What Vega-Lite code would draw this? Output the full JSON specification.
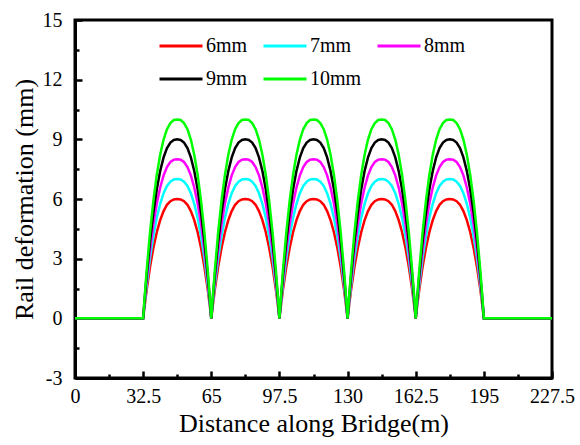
{
  "$schema": "https://vega.github.io/schema/vega-lite/v6.json",
  "width": 477,
  "height": 358,
  "autosize": {"type": "none"},
  "padding": {"left": 75, "top": 20, "right": 28, "bottom": 67},
  "background": "white",
  "config": {
    "font": "serif",
    "view": {"stroke": "black", "strokeWidth": 3},
    "axis": {"grid": false, "labelFont": "serif", "titleFont": "serif"},
    "legend": {"labelFont": "serif"},
    "style": {"guide-label": {"font": "serif"}, "guide-title": {"font": "serif"}}
  },
  "data": {
    "values": [
      {"x": 0, "6mm": 0, "7mm": 0, "8mm": 0, "9mm": 0, "10mm": 0},
      {"x": 32.5, "6mm": 0, "7mm": 0, "8mm": 0, "9mm": 0, "10mm": 0},
      {"x": 33.3125, "6mm": 0.72, "7mm": 0.84, "8mm": 0.96, "9mm": 1.08, "10mm": 1.2},
      {"x": 34.125, "6mm": 1.39, "7mm": 1.62, "8mm": 1.86, "9mm": 2.09, "10mm": 2.32},
      {"x": 35.75, "6mm": 2.57, "7mm": 3, "8mm": 3.42, "9mm": 3.85, "10mm": 4.28},
      {"x": 37.375, "6mm": 3.54, "7mm": 4.13, "8mm": 4.72, "9mm": 5.31, "10mm": 5.9},
      {"x": 39, "6mm": 4.33, "7mm": 5.05, "8mm": 5.77, "9mm": 6.49, "10mm": 7.21},
      {"x": 40.625, "6mm": 4.94, "7mm": 5.76, "8mm": 6.58, "9mm": 7.41, "10mm": 8.23},
      {"x": 42.25, "6mm": 5.39, "7mm": 6.29, "8mm": 7.19, "9mm": 8.09, "10mm": 8.99},
      {"x": 43.875, "6mm": 5.71, "7mm": 6.66, "8mm": 7.61, "9mm": 8.56, "10mm": 9.51},
      {"x": 45.5, "6mm": 5.89, "7mm": 6.87, "8mm": 7.86, "9mm": 8.84, "10mm": 9.82},
      {"x": 47.125, "6mm": 5.98, "7mm": 6.98, "8mm": 7.98, "9mm": 8.97, "10mm": 9.97},
      {"x": 48.75, "6mm": 6, "7mm": 7, "8mm": 8, "9mm": 9, "10mm": 10},
      {"x": 50.375, "6mm": 5.98, "7mm": 6.98, "8mm": 7.98, "9mm": 8.97, "10mm": 9.97},
      {"x": 52, "6mm": 5.89, "7mm": 6.87, "8mm": 7.86, "9mm": 8.84, "10mm": 9.82},
      {"x": 53.625, "6mm": 5.71, "7mm": 6.66, "8mm": 7.61, "9mm": 8.56, "10mm": 9.51},
      {"x": 55.25, "6mm": 5.39, "7mm": 6.29, "8mm": 7.19, "9mm": 8.09, "10mm": 8.99},
      {"x": 56.875, "6mm": 4.94, "7mm": 5.76, "8mm": 6.58, "9mm": 7.41, "10mm": 8.23},
      {"x": 58.5, "6mm": 4.33, "7mm": 5.05, "8mm": 5.77, "9mm": 6.49, "10mm": 7.21},
      {"x": 60.125, "6mm": 3.54, "7mm": 4.13, "8mm": 4.72, "9mm": 5.31, "10mm": 5.9},
      {"x": 61.75, "6mm": 2.57, "7mm": 3, "8mm": 3.42, "9mm": 3.85, "10mm": 4.28},
      {"x": 63.375, "6mm": 1.39, "7mm": 1.62, "8mm": 1.86, "9mm": 2.09, "10mm": 2.32},
      {"x": 64.1875, "6mm": 0.72, "7mm": 0.84, "8mm": 0.96, "9mm": 1.08, "10mm": 1.2},
      {"x": 65, "6mm": 0, "7mm": 0, "8mm": 0, "9mm": 0, "10mm": 0},
      {"x": 65.8125, "6mm": 0.72, "7mm": 0.84, "8mm": 0.96, "9mm": 1.08, "10mm": 1.2},
      {"x": 66.625, "6mm": 1.39, "7mm": 1.62, "8mm": 1.86, "9mm": 2.09, "10mm": 2.32},
      {"x": 68.25, "6mm": 2.57, "7mm": 3, "8mm": 3.42, "9mm": 3.85, "10mm": 4.28},
      {"x": 69.875, "6mm": 3.54, "7mm": 4.13, "8mm": 4.72, "9mm": 5.31, "10mm": 5.9},
      {"x": 71.5, "6mm": 4.33, "7mm": 5.05, "8mm": 5.77, "9mm": 6.49, "10mm": 7.21},
      {"x": 73.125, "6mm": 4.94, "7mm": 5.76, "8mm": 6.58, "9mm": 7.41, "10mm": 8.23},
      {"x": 74.75, "6mm": 5.39, "7mm": 6.29, "8mm": 7.19, "9mm": 8.09, "10mm": 8.99},
      {"x": 76.375, "6mm": 5.71, "7mm": 6.66, "8mm": 7.61, "9mm": 8.56, "10mm": 9.51},
      {"x": 78, "6mm": 5.89, "7mm": 6.87, "8mm": 7.86, "9mm": 8.84, "10mm": 9.82},
      {"x": 79.625, "6mm": 5.98, "7mm": 6.98, "8mm": 7.98, "9mm": 8.97, "10mm": 9.97},
      {"x": 81.25, "6mm": 6, "7mm": 7, "8mm": 8, "9mm": 9, "10mm": 10},
      {"x": 82.875, "6mm": 5.98, "7mm": 6.98, "8mm": 7.98, "9mm": 8.97, "10mm": 9.97},
      {"x": 84.5, "6mm": 5.89, "7mm": 6.87, "8mm": 7.86, "9mm": 8.84, "10mm": 9.82},
      {"x": 86.125, "6mm": 5.71, "7mm": 6.66, "8mm": 7.61, "9mm": 8.56, "10mm": 9.51},
      {"x": 87.75, "6mm": 5.39, "7mm": 6.29, "8mm": 7.19, "9mm": 8.09, "10mm": 8.99},
      {"x": 89.375, "6mm": 4.94, "7mm": 5.76, "8mm": 6.58, "9mm": 7.41, "10mm": 8.23},
      {"x": 91, "6mm": 4.33, "7mm": 5.05, "8mm": 5.77, "9mm": 6.49, "10mm": 7.21},
      {"x": 92.625, "6mm": 3.54, "7mm": 4.13, "8mm": 4.72, "9mm": 5.31, "10mm": 5.9},
      {"x": 94.25, "6mm": 2.57, "7mm": 3, "8mm": 3.42, "9mm": 3.85, "10mm": 4.28},
      {"x": 95.875, "6mm": 1.39, "7mm": 1.62, "8mm": 1.86, "9mm": 2.09, "10mm": 2.32},
      {"x": 96.6875, "6mm": 0.72, "7mm": 0.84, "8mm": 0.96, "9mm": 1.08, "10mm": 1.2},
      {"x": 97.5, "6mm": 0, "7mm": 0, "8mm": 0, "9mm": 0, "10mm": 0},
      {"x": 98.3125, "6mm": 0.72, "7mm": 0.84, "8mm": 0.96, "9mm": 1.08, "10mm": 1.2},
      {"x": 99.125, "6mm": 1.39, "7mm": 1.62, "8mm": 1.86, "9mm": 2.09, "10mm": 2.32},
      {"x": 100.75, "6mm": 2.57, "7mm": 3, "8mm": 3.42, "9mm": 3.85, "10mm": 4.28},
      {"x": 102.375, "6mm": 3.54, "7mm": 4.13, "8mm": 4.72, "9mm": 5.31, "10mm": 5.9},
      {"x": 104, "6mm": 4.33, "7mm": 5.05, "8mm": 5.77, "9mm": 6.49, "10mm": 7.21},
      {"x": 105.625, "6mm": 4.94, "7mm": 5.76, "8mm": 6.58, "9mm": 7.41, "10mm": 8.23},
      {"x": 107.25, "6mm": 5.39, "7mm": 6.29, "8mm": 7.19, "9mm": 8.09, "10mm": 8.99},
      {"x": 108.875, "6mm": 5.71, "7mm": 6.66, "8mm": 7.61, "9mm": 8.56, "10mm": 9.51},
      {"x": 110.5, "6mm": 5.89, "7mm": 6.87, "8mm": 7.86, "9mm": 8.84, "10mm": 9.82},
      {"x": 112.125, "6mm": 5.98, "7mm": 6.98, "8mm": 7.98, "9mm": 8.97, "10mm": 9.97},
      {"x": 113.75, "6mm": 6, "7mm": 7, "8mm": 8, "9mm": 9, "10mm": 10},
      {"x": 115.375, "6mm": 5.98, "7mm": 6.98, "8mm": 7.98, "9mm": 8.97, "10mm": 9.97},
      {"x": 117, "6mm": 5.89, "7mm": 6.87, "8mm": 7.86, "9mm": 8.84, "10mm": 9.82},
      {"x": 118.625, "6mm": 5.71, "7mm": 6.66, "8mm": 7.61, "9mm": 8.56, "10mm": 9.51},
      {"x": 120.25, "6mm": 5.39, "7mm": 6.29, "8mm": 7.19, "9mm": 8.09, "10mm": 8.99},
      {"x": 121.875, "6mm": 4.94, "7mm": 5.76, "8mm": 6.58, "9mm": 7.41, "10mm": 8.23},
      {"x": 123.5, "6mm": 4.33, "7mm": 5.05, "8mm": 5.77, "9mm": 6.49, "10mm": 7.21},
      {"x": 125.125, "6mm": 3.54, "7mm": 4.13, "8mm": 4.72, "9mm": 5.31, "10mm": 5.9},
      {"x": 126.75, "6mm": 2.57, "7mm": 3, "8mm": 3.42, "9mm": 3.85, "10mm": 4.28},
      {"x": 128.375, "6mm": 1.39, "7mm": 1.62, "8mm": 1.86, "9mm": 2.09, "10mm": 2.32},
      {"x": 129.1875, "6mm": 0.72, "7mm": 0.84, "8mm": 0.96, "9mm": 1.08, "10mm": 1.2},
      {"x": 130, "6mm": 0, "7mm": 0, "8mm": 0, "9mm": 0, "10mm": 0},
      {"x": 130.8125, "6mm": 0.72, "7mm": 0.84, "8mm": 0.96, "9mm": 1.08, "10mm": 1.2},
      {"x": 131.625, "6mm": 1.39, "7mm": 1.62, "8mm": 1.86, "9mm": 2.09, "10mm": 2.32},
      {"x": 133.25, "6mm": 2.57, "7mm": 3, "8mm": 3.42, "9mm": 3.85, "10mm": 4.28},
      {"x": 134.875, "6mm": 3.54, "7mm": 4.13, "8mm": 4.72, "9mm": 5.31, "10mm": 5.9},
      {"x": 136.5, "6mm": 4.33, "7mm": 5.05, "8mm": 5.77, "9mm": 6.49, "10mm": 7.21},
      {"x": 138.125, "6mm": 4.94, "7mm": 5.76, "8mm": 6.58, "9mm": 7.41, "10mm": 8.23},
      {"x": 139.75, "6mm": 5.39, "7mm": 6.29, "8mm": 7.19, "9mm": 8.09, "10mm": 8.99},
      {"x": 141.375, "6mm": 5.71, "7mm": 6.66, "8mm": 7.61, "9mm": 8.56, "10mm": 9.51},
      {"x": 143, "6mm": 5.89, "7mm": 6.87, "8mm": 7.86, "9mm": 8.84, "10mm": 9.82},
      {"x": 144.625, "6mm": 5.98, "7mm": 6.98, "8mm": 7.98, "9mm": 8.97, "10mm": 9.97},
      {"x": 146.25, "6mm": 6, "7mm": 7, "8mm": 8, "9mm": 9, "10mm": 10},
      {"x": 147.875, "6mm": 5.98, "7mm": 6.98, "8mm": 7.98, "9mm": 8.97, "10mm": 9.97},
      {"x": 149.5, "6mm": 5.89, "7mm": 6.87, "8mm": 7.86, "9mm": 8.84, "10mm": 9.82},
      {"x": 151.125, "6mm": 5.71, "7mm": 6.66, "8mm": 7.61, "9mm": 8.56, "10mm": 9.51},
      {"x": 152.75, "6mm": 5.39, "7mm": 6.29, "8mm": 7.19, "9mm": 8.09, "10mm": 8.99},
      {"x": 154.375, "6mm": 4.94, "7mm": 5.76, "8mm": 6.58, "9mm": 7.41, "10mm": 8.23},
      {"x": 156, "6mm": 4.33, "7mm": 5.05, "8mm": 5.77, "9mm": 6.49, "10mm": 7.21},
      {"x": 157.625, "6mm": 3.54, "7mm": 4.13, "8mm": 4.72, "9mm": 5.31, "10mm": 5.9},
      {"x": 159.25, "6mm": 2.57, "7mm": 3, "8mm": 3.42, "9mm": 3.85, "10mm": 4.28},
      {"x": 160.875, "6mm": 1.39, "7mm": 1.62, "8mm": 1.86, "9mm": 2.09, "10mm": 2.32},
      {"x": 161.6875, "6mm": 0.72, "7mm": 0.84, "8mm": 0.96, "9mm": 1.08, "10mm": 1.2},
      {"x": 162.5, "6mm": 0, "7mm": 0, "8mm": 0, "9mm": 0, "10mm": 0},
      {"x": 163.3125, "6mm": 0.72, "7mm": 0.84, "8mm": 0.96, "9mm": 1.08, "10mm": 1.2},
      {"x": 164.125, "6mm": 1.39, "7mm": 1.62, "8mm": 1.86, "9mm": 2.09, "10mm": 2.32},
      {"x": 165.75, "6mm": 2.57, "7mm": 3, "8mm": 3.42, "9mm": 3.85, "10mm": 4.28},
      {"x": 167.375, "6mm": 3.54, "7mm": 4.13, "8mm": 4.72, "9mm": 5.31, "10mm": 5.9},
      {"x": 169, "6mm": 4.33, "7mm": 5.05, "8mm": 5.77, "9mm": 6.49, "10mm": 7.21},
      {"x": 170.625, "6mm": 4.94, "7mm": 5.76, "8mm": 6.58, "9mm": 7.41, "10mm": 8.23},
      {"x": 172.25, "6mm": 5.39, "7mm": 6.29, "8mm": 7.19, "9mm": 8.09, "10mm": 8.99},
      {"x": 173.875, "6mm": 5.71, "7mm": 6.66, "8mm": 7.61, "9mm": 8.56, "10mm": 9.51},
      {"x": 175.5, "6mm": 5.89, "7mm": 6.87, "8mm": 7.86, "9mm": 8.84, "10mm": 9.82},
      {"x": 177.125, "6mm": 5.98, "7mm": 6.98, "8mm": 7.98, "9mm": 8.97, "10mm": 9.97},
      {"x": 178.75, "6mm": 6, "7mm": 7, "8mm": 8, "9mm": 9, "10mm": 10},
      {"x": 180.375, "6mm": 5.98, "7mm": 6.98, "8mm": 7.98, "9mm": 8.97, "10mm": 9.97},
      {"x": 182, "6mm": 5.89, "7mm": 6.87, "8mm": 7.86, "9mm": 8.84, "10mm": 9.82},
      {"x": 183.625, "6mm": 5.71, "7mm": 6.66, "8mm": 7.61, "9mm": 8.56, "10mm": 9.51},
      {"x": 185.25, "6mm": 5.39, "7mm": 6.29, "8mm": 7.19, "9mm": 8.09, "10mm": 8.99},
      {"x": 186.875, "6mm": 4.94, "7mm": 5.76, "8mm": 6.58, "9mm": 7.41, "10mm": 8.23},
      {"x": 188.5, "6mm": 4.33, "7mm": 5.05, "8mm": 5.77, "9mm": 6.49, "10mm": 7.21},
      {"x": 190.125, "6mm": 3.54, "7mm": 4.13, "8mm": 4.72, "9mm": 5.31, "10mm": 5.9},
      {"x": 191.75, "6mm": 2.57, "7mm": 3, "8mm": 3.42, "9mm": 3.85, "10mm": 4.28},
      {"x": 193.375, "6mm": 1.39, "7mm": 1.62, "8mm": 1.86, "9mm": 2.09, "10mm": 2.32},
      {"x": 194.1875, "6mm": 0.72, "7mm": 0.84, "8mm": 0.96, "9mm": 1.08, "10mm": 1.2},
      {"x": 195, "6mm": 0, "7mm": 0, "8mm": 0, "9mm": 0, "10mm": 0},
      {"x": 227.5, "6mm": 0, "7mm": 0, "8mm": 0, "9mm": 0, "10mm": 0}
    ]
  },
  "transform": [{"fold": ["6mm", "7mm", "8mm", "9mm", "10mm"], "as": ["series", "value"]}],
  "layer": [
    {
      "mark": {"type": "line", "strokeWidth": 2.5},
      "encoding": {
        "x": {
          "field": "x", "type": "quantitative",
          "scale": {"domain": [0, 227.5], "nice": false, "zero": false},
          "axis": {
            "orient": "bottom",
            "values": [0, 32.5, 65, 97.5, 130, 162.5, 195, 227.5],
            "labelExpr": "'' + datum.value",
            "labelFlush": false,
            "labelOverlap": false,
            "tickSize": -7, "tickWidth": 2.5, "tickColor": "black",
            "domainColor": "black", "domainWidth": 3,
            "labelFont": "serif", "labelColor": "black",
            "labelFontSize": 20, "labelPadding": 15,
            "title": "Distance along Bridge(m)",
            "titleFont": "serif", "titleColor": "black", "titleFontWeight": "normal",
            "titleFontSize": 26, "titlePadding": 4
          }
        },
        "y": {
          "field": "value", "type": "quantitative",
          "scale": {"domain": [-3, 15], "nice": false, "zero": false},
          "axis": {
            "orient": "left",
            "values": [-3, 0, 3, 6, 9, 12, 15],
            "labelExpr": "'' + datum.value",
            "labelFlush": false,
            "labelOverlap": false,
            "tickSize": -7, "tickWidth": 2.5, "tickColor": "black",
            "domainColor": "black", "domainWidth": 3,
            "labelFont": "serif", "labelColor": "black",
            "labelFontSize": 20, "labelPadding": 20,
            "title": "Rail deformation (mm)",
            "titleFont": "serif", "titleColor": "black", "titleFontWeight": "normal",
            "titleFontSize": 26, "titlePadding": 5
          }
        },
        "color": {
          "field": "series", "type": "nominal",
          "scale": {"domain": ["6mm", "7mm", "8mm", "9mm", "10mm"], "range": ["#ff0000", "#00ffff", "#ff00ff", "#000000", "#00ff00"]},
          "legend": {
            "orient": "none", "legendX": 83, "legendY": 3,
            "columns": 3, "direction": "horizontal",
            "title": null,
            "symbolType": "stroke", "symbolSize": 1849, "symbolStrokeWidth": 3,
            "labelFont": "serif", "labelFontSize": 20, "labelColor": "black",
            "labelOffset": 2, "columnPadding": 9, "rowPadding": 0, "padding": 0
          }
        }
      }
    },
    {
      "transform": [{"filter": "datum.x == 0 && datum.series == '6mm'"}],
      "mark": {"type": "point", "opacity": 0},
      "encoding": {
        "x": {
          "field": "x", "type": "quantitative",
          "axis": {
            "orient": "bottom",
            "values": [16.25, 48.75, 81.25, 113.75, 146.25, 178.75, 211.25],
            "labels": false, "domain": false, "title": null,
            "tickSize": -4, "tickWidth": 2.5, "tickColor": "black"
          }
        },
        "y": {
          "field": "value", "type": "quantitative",
          "axis": {
            "orient": "left",
            "values": [-1.5, 1.5, 4.5, 7.5, 10.5, 13.5],
            "labels": false, "domain": false, "title": null,
            "tickSize": -4, "tickWidth": 2.5, "tickColor": "black"
          }
        }
      }
    }
  ],
  "resolve": {"axis": {"x": "independent", "y": "independent"}}
}
